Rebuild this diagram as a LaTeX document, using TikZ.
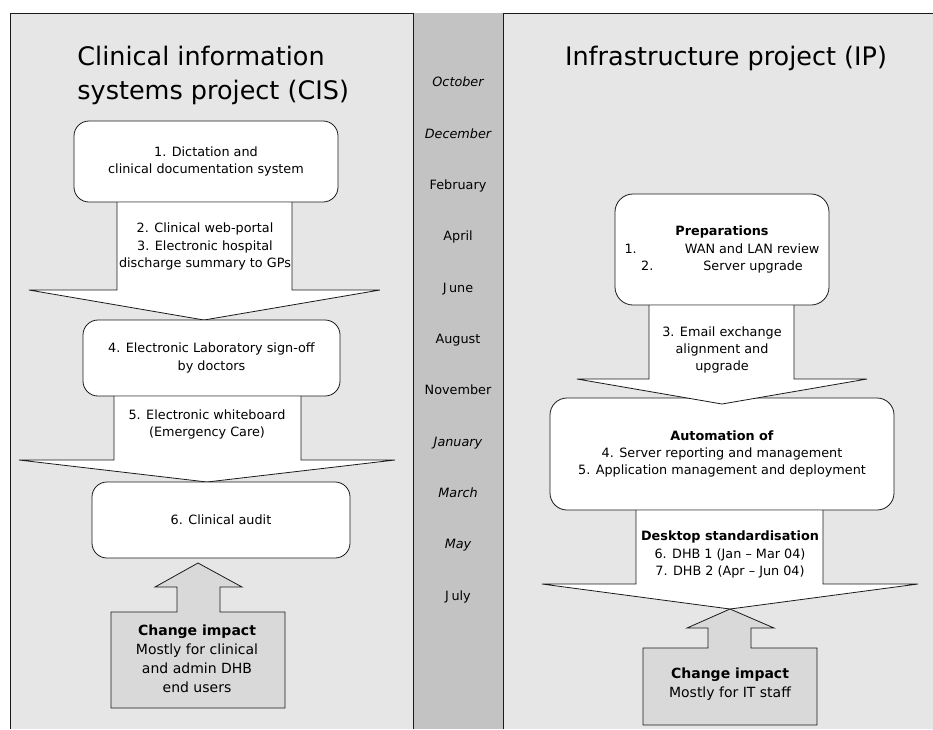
\documentclass[tikz,border=0pt]{standalone}
\usepackage{fontspec}
\setmainfont{DejaVu Sans}
\definecolor{panelbg}{HTML}{E6E6E6}
\definecolor{monthbg}{HTML}{C3C3C3}
\definecolor{impactbg}{HTML}{D9D9D9}
\definecolor{ink}{HTML}{1A1A1A}
\begin{document}
\begin{tikzpicture}[x=1pt,y=-1pt,
  line width=0.8pt,
  stage/.style={draw=ink, fill=white, rounded corners=15pt, inner sep=0pt,
    align=center, font=\fontsize{12.8}{17.3}\selectfont},
  flowfill/.style={fill=white},
  flowline/.style={draw=ink, line join=miter},
  impact/.style={draw=ink, fill=impactbg, line join=miter},
  body/.style={inner sep=0pt, align=center, font=\fontsize{12.8}{17.3}\selectfont},
  impacttext/.style={inner sep=0pt, align=center, font=\fontsize{14}{19}\selectfont},
  month/.style={inner sep=0pt, anchor=base, font=\fontsize{12.8}{15}\selectfont},
  heading/.style={inner sep=0pt, font=\fontsize{25.5}{34}\selectfont}]

\useasboundingbox (0,0) rectangle (933,729);

% panels and the month column
\fill[panelbg] (10,13) rectangle (933,729);
\draw[ink] (10,729) -- (10,13) -- (933,13);
\fill[monthbg] (413,13) rectangle (503,729);
\draw[ink] (413,729) -- (413,13);
\draw[ink] (503,729) -- (503,13);

% headings (base anchor of a two-line node sits on its last line)
\node[heading, anchor=base west, align=left] (cistitle) at (77,99)
  {Clinical information\\systems project (CIS)};
\node[heading, anchor=base] (iptitle) at (726,65) {Infrastructure project (IP)};

% months
\node[month, font=\fontsize{12.8}{15}\itshape] (m1) at (458,86) {October};
\node[month, font=\fontsize{12.8}{15}\itshape] (m2) at (458,138) {December};
\node[month] (m3) at (458,189) {February};
\node[month] (m4) at (458,240) {April};
\node[month] (m5) at (458,292) {J\hspace{2.5pt}une};
\node[month] (m6) at (458,343) {August};
\node[month] (m7) at (458,394) {November};
\node[month, font=\fontsize{12.8}{15}\itshape] (m8) at (458,446) {January};
\node[month, font=\fontsize{12.8}{15}\itshape] (m9) at (458,497) {March};
\node[month, font=\fontsize{12.8}{15}\itshape] (m10) at (458,548) {May};
\node[month] (m11) at (458,600) {J\hspace{2.5pt}uly};

% ---- CIS stream ----
\node[stage, minimum width=264pt, minimum height=81pt] (dict) at (206,161.5)
  {1. Dictation and\\clinical documentation system};
\coordinate (tipA) at (204,320);
\path[flowfill] (117,202.5) -- (117,290) -- (29,290) -- (tipA) -- (380,290) -- (292,290) -- (292,202.5) -- cycle;
\draw[flowline] (117,202) -- (117,290) -- (29,290) -- (tipA) -- (380,290) -- (292,290) -- (292,202);
\node[body] (portal) at (205,246.5)
  {2. Clinical web-portal\\3. Electronic hospital\\discharge summary to GPs};

\node[stage, minimum width=257pt, minimum height=76pt] (lab) at (211.5,358)
  {4. Electronic Laboratory sign-off\\by doctors};
\coordinate (tipB) at (207,482);
\path[flowfill] (114,396.5) -- (114,460) -- (19,460) -- (tipB) -- (395,460) -- (301,460) -- (301,396.5) -- cycle;
\draw[flowline] (114,396) -- (114,460) -- (19,460) -- (tipB) -- (395,460) -- (301,460) -- (301,396);
\node[body] (board) at (207,424.5)
  {5. Electronic whiteboard\\(Emergency Care)};

\node[stage, minimum width=258pt, minimum height=76pt] (audit) at (221,520)
  {6. Clinical audit};

\coordinate (tipC) at (198,563);
\draw[impact] (111,612) -- (177,612) -- (177,587) -- (155,587) -- (tipC) -- (242,587)
  -- (220,587) -- (220,612) -- (285,612) -- (285,708) -- (111,708) -- cycle;
\node[impacttext] (cisimpact) at (197,658.5)
  {\textbf{Change impact}\\Mostly for clinical\\and admin DHB\\end users};

% ---- IP stream ----
\node[stage, minimum width=214pt, minimum height=111pt, rounded corners=18pt] (prep) at (722,249.5)
  {\textbf{Preparations}\\1.\hspace{48pt}WAN and LAN review\\2.\hspace{50pt}Server upgrade};

\node[stage, minimum width=344pt, minimum height=112pt, rounded corners=17pt] (auto) at (722,454)
  {\textbf{Automation of}\\4. Server reporting and management\\5. Application management and deployment};

\coordinate (tipD) at (722,404);
\path[flowfill] (649,305.5) -- (649,379) -- (577,379) -- (tipD) -- (867,379) -- (794,379) -- (794,305.5) -- cycle;
\draw[flowline] (649,305) -- (649,379) -- (577,379) -- (tipD) -- (867,379) -- (794,379) -- (794,305);
\node[body] (email) at (722,350)
  {3. Email exchange\\alignment and\\upgrade};

\coordinate (tipE) at (730,609);
\path[flowfill] (636,510.5) -- (636,584) -- (542,584) -- (tipE) -- (918,584) -- (823,584) -- (823,510.5) -- cycle;
\draw[flowline] (636,510) -- (636,584) -- (542,584) -- (tipE) -- (918,584) -- (823,584) -- (823,510);
\node[body] (desktop) at (730,554.5)
  {\textbf{Desktop standardisation}\\6. DHB 1 (Jan -- Mar 04)\\7. DHB 2 (Apr -- Jun 04)};

\draw[impact] (643,648) -- (708,648) -- (708,628) -- (687,628) -- (tipE) -- (774,628)
  -- (751,628) -- (751,648) -- (817,648) -- (817,725) -- (643,725) -- cycle;
\node[impacttext] (ipimpact) at (730,684.5)
  {\textbf{Change impact}\\Mostly for IT staff};

\end{tikzpicture}
\end{document}
